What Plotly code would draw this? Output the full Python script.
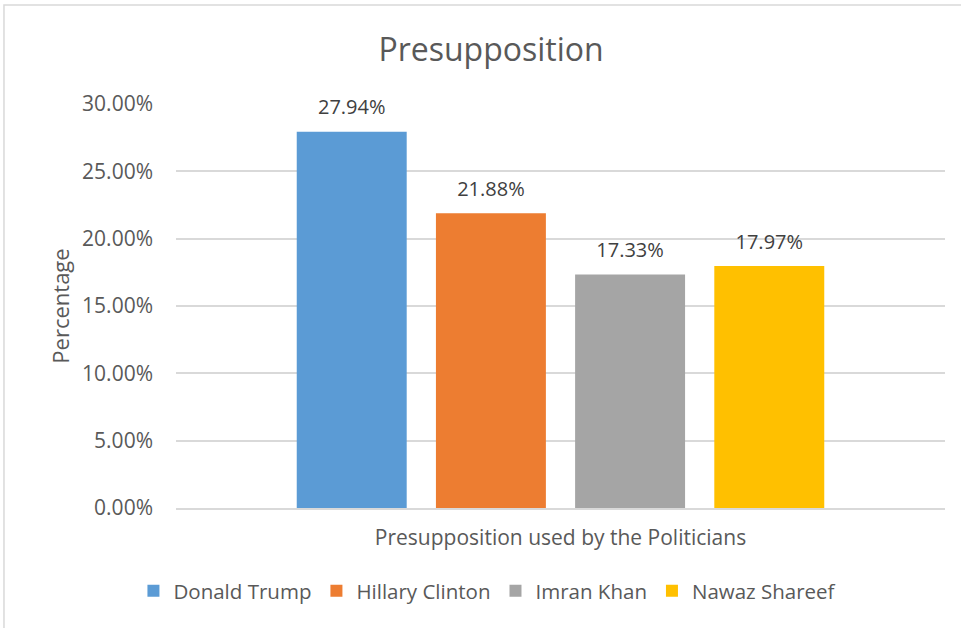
import plotly.graph_objects as go

category = ["Presupposition used by the Politicians"]
politicians = ["Donald Trump", "Hillary Clinton", "Imran Khan", "Nawaz Shareef"]
values = [0.2794, 0.2188, 0.1733, 0.1797]
colors = ["#5B9BD5", "#ED7D31", "#A5A5A5", "#FFC000"]
y_ticks = [0, 0.05, 0.10, 0.15, 0.20, 0.25, 0.30]

FONT = "Open Sans"
GREY = "#595959"

fig = go.Figure()
for i, (name, v, c) in enumerate(zip(politicians, values, colors)):
    fig.add_trace(go.Bar(
        x=category, y=[v], name=name, offsetgroup=str(i),
        marker=dict(color=c, line=dict(width=0)),
        hovertemplate="%{y:.2%}<extra>" + name + "</extra>",
    ))
for i, v in enumerate(values):
    fig.add_trace(go.Scatter(
        x=category, y=[v], offsetgroup=str(i), mode="markers+text",
        marker=dict(size=18, opacity=0),
        text=[f"{v:.2%}"], textposition="top center",
        textfont=dict(family=FONT, size=20, color="#404040"),
        showlegend=False, hoverinfo="skip", cliponaxis=False,
    ))

fig.update_layout(
    width=961, height=628,
    margin=dict(l=176, r=16, t=104, b=120),
    paper_bgcolor="white", plot_bgcolor="white",
    barmode="group", scattermode="group", bargap=0.276, bargroupgap=0.21,
    title=dict(text="Presupposition", x=0.511, xref="container", y=0.92, yref="container",
               xanchor="center", yanchor="middle",
               font=dict(family=FONT, size=32, color=GREY)),
    font=dict(family=FONT, color=GREY),
    showlegend=True,
    legend=dict(orientation="h", x=0.405, xanchor="center", y=-0.205, yanchor="middle",
                font=dict(family=FONT, size=20.5, color=GREY), traceorder="normal",
                itemwidth=30),
    shapes=[dict(type="rect", xref="paper", yref="paper", x0=-0.2237, y0=-1, x1=2, y1=1.245,
                 line=dict(color="#d9d9d9", width=1.5), fillcolor="rgba(0,0,0,0)", layer="below")],
)
fig.update_xaxes(
    showgrid=False, showline=True, linecolor="#d9d9d9", linewidth=1.5,
    showticklabels=False, ticks="",
    title=dict(text=category[0], font=dict(family=FONT, size=21, color=GREY), standoff=22),
)
fig.update_yaxes(
    range=[0, 0.30], tickvals=y_ticks, tickformat=".2%",
    showgrid=True, gridcolor="#d9d9d9", gridwidth=1.5, zeroline=False, showline=False,
    tickfont=dict(family=FONT, size=21, color=GREY), ticks="", ticklabelstandoff=22,
    title=dict(text="Percentage", font=dict(family=FONT, size=22, color=GREY), standoff=6),
)
fig.write_html("out.html")
